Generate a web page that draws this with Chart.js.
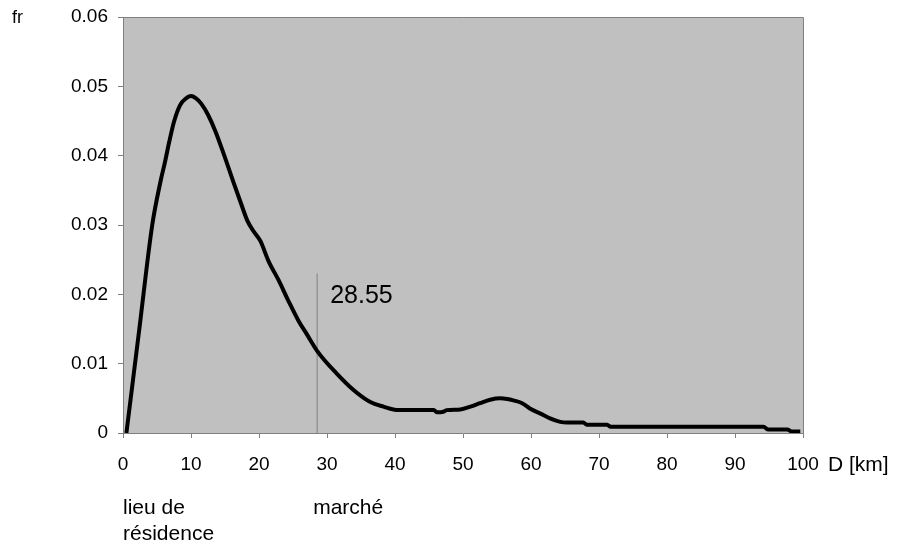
<!DOCTYPE html>
<html>
<head>
<meta charset="utf-8">
<script src="https://cdn.jsdelivr.net/npm/chart.js@4/dist/chart.umd.min.js"></script>
<style>
  html, body { margin: 0; padding: 0; background: #ffffff; }
  #wrap { width: 905px; height: 544px; position: relative; }
</style>
</head>
<body>
<div id="wrap"><canvas id="c" width="905" height="544"></canvas></div>
<script>
// Distance D [km]
const distances = [0.5, 2.4, 4.3, 5.5, 6.2, 6.8, 7.5, 8.4, 9.2, 10, 10.7, 11.5, 12.5, 13.6, 14.9, 16.2, 17.5, 18.3, 19.2, 20.2, 21.4, 22.9, 24.3, 25.8, 27.0, 28.65, 31.4, 33.9, 36.3, 38.3, 40.5, 45.7, 46.2, 46.7, 47.2, 47.6, 49.6, 51.1, 52.5, 54, 55.5, 56.5, 57.4, 58.7, 59.9, 61.4, 62.8, 64.3, 65.3, 67.7, 68.2, 71.2, 71.7, 94.2, 94.9, 97.7, 98.4, 99.6];
// Relative frequency fr
const frequencies = [0, 0.015, 0.03, 0.0362, 0.0392, 0.042, 0.0449, 0.0473, 0.0482, 0.0486, 0.0483, 0.0475, 0.0459, 0.0435, 0.04, 0.0363, 0.0327, 0.0306, 0.0291, 0.0277, 0.0248, 0.022, 0.0191, 0.0162, 0.0143, 0.0117, 0.0086, 0.0062, 0.0045, 0.0038, 0.0033, 0.0033, 0.003, 0.003, 0.0031, 0.0033, 0.0034, 0.0038, 0.0043, 0.0048, 0.005, 0.0049, 0.0047, 0.0043, 0.0035, 0.0028, 0.0021, 0.0016, 0.0015, 0.0015, 0.0012, 0.0012, 0.0009, 0.0009, 0.0005, 0.0005, 0.0002, 0.0002];
// Market marker
const markerD = 28.55;
const markerTop = 0.023;
const markerLabel = '28.55';
// Axis tick settings / labels
const xTicksMin = 0, xTicksMax = 100, xTicksStep = 10;
const yTicksMin = 0, yTicksMax = 0.06, yTicksStep = 0.01;
const yAxisTitle = 'fr';
const xAxisTitle = 'D [km]';
const placeLabels = [
  { d: 0, lines: ['lieu de', 'résidence'] },
  { d: 28.55, lines: ['marché'] }
];

const FONT = '"Liberation Sans", Arial, sans-serif';
const GRAY = '#808080';

const curve = distances.map((d, i) => ({ x: d, y: frequencies[i] }));
const marker = [{ x: markerD, y: 0 }, { x: markerD, y: markerTop }];

const decor = {
  id: 'decor',
  beforeDraw(chart) {
    const a = chart.chartArea, ctx = chart.ctx;
    ctx.save();
    ctx.fillStyle = '#ffffff';
    ctx.fillRect(0, 0, chart.width, chart.height);
    ctx.fillStyle = '#c0c0c0';
    ctx.fillRect(a.left, a.top, a.right - a.left, a.bottom - a.top);
    ctx.strokeStyle = GRAY;
    ctx.lineWidth = 1;
    ctx.beginPath();
    ctx.moveTo(a.left, a.top + 0.5);
    ctx.lineTo(a.right + 0.5, a.top + 0.5);
    ctx.lineTo(a.right + 0.5, a.bottom);
    ctx.stroke();
    ctx.restore();
  },
  afterDraw(chart) {
    const ctx = chart.ctx, xs = chart.scales.x, ys = chart.scales.y;
    ctx.save();
    ctx.fillStyle = '#000000';
    ctx.textBaseline = 'middle';
    ctx.textAlign = 'left';
    ctx.font = '25px ' + FONT;
    ctx.fillText(markerLabel, xs.getPixelForValue(markerD) + 13, ys.getPixelForValue(0.0198));
    ctx.font = '18px ' + FONT;
    ctx.fillText(yAxisTitle, 12, 18);
    ctx.font = '21px ' + FONT;
    ctx.fillText(xAxisTitle, 828, 465);
    placeLabels.forEach(p => {
      const x = xs.getPixelForValue(p.d) - (p.d === 0 ? 0 : 4);
      p.lines.forEach((t, i) => ctx.fillText(t, x, 508 + i * 26));
    });
    ctx.restore();
  }
};

new Chart(document.getElementById('c'), {
  type: 'line',
  data: {
    datasets: [
      {
        data: curve,
        borderColor: '#000000',
        borderWidth: 4,
        pointRadius: 0,
        cubicInterpolationMode: 'monotone',
        fill: false
      },
      {
        data: marker,
        borderColor: GRAY,
        borderWidth: 1,
        pointRadius: 0,
        fill: false
      }
    ]
  },
  options: {
    responsive: false,
    animation: false,
    devicePixelRatio: 1,
    layout: { padding: { top: 17, right: 102, left: 0, bottom: 0 } },
    plugins: { legend: { display: false }, tooltip: { enabled: false } },
    scales: {
      x: {
        type: 'linear',
        min: xTicksMin, max: xTicksMax,
        ticks: { stepSize: xTicksStep, color: '#000000', font: { size: 19, family: FONT }, padding: 15, maxRotation: 0 },
        grid: { drawOnChartArea: false, drawTicks: true, tickLength: 5, color: GRAY },
        border: { display: true, color: GRAY },
        afterFit(s) { s.height = 111; s.paddingLeft = 0; s.paddingRight = 0; }
      },
      y: {
        min: yTicksMin, max: yTicksMax,
        ticks: {
          stepSize: yTicksStep, color: '#000000', font: { size: 19, family: FONT }, padding: 10,
          callback: v => (Math.abs(v) < 1e-9 ? '0' : v.toFixed(2))
        },
        grid: { drawOnChartArea: false, drawTicks: true, tickLength: 5, color: GRAY },
        border: { display: true, color: GRAY },
        afterFit(s) { s.width = 123; s.paddingTop = 0; s.paddingBottom = 0; }
      }
    }
  },
  plugins: [decor]
});
</script>
</body>
</html>
